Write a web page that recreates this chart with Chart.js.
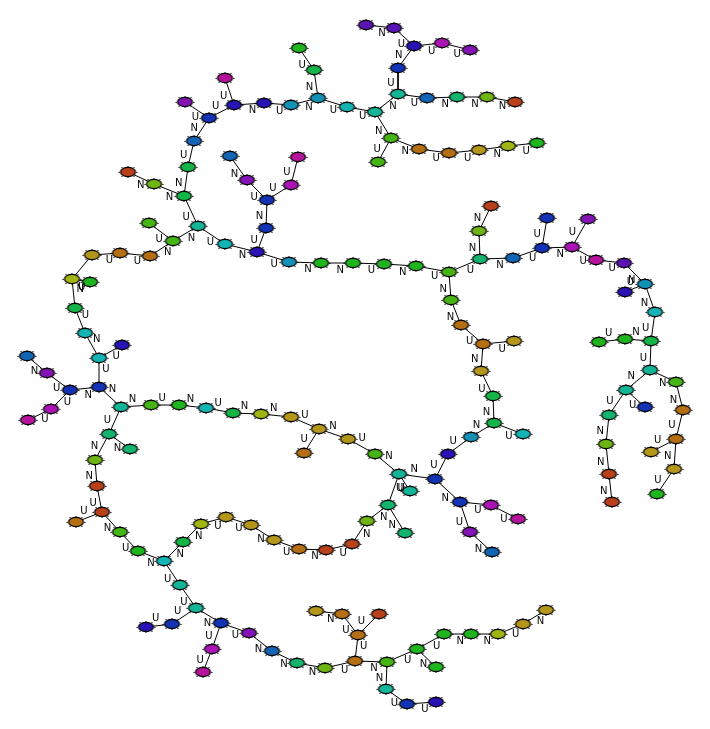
<!DOCTYPE html>
<html>
<head>
<meta charset="utf-8">
<script src="https://cdn.jsdelivr.net/npm/chart.js@4.4.1/dist/chart.umd.min.js"></script>
<style>
  html, body { margin: 0; padding: 0; background: #fff; }
  #graph { display: block; }
</style>
</head>
<body>
<canvas id="graph" width="710" height="729"></canvas>
<script>
// Node names, positions (pixel space of the original drawing) and hue group
const nodeNames = [
  'a1','a2','a3','a4','a5','a6','a7','a8','a9','a10','a11','a12','a13','a14','a15',
  'b1','b2','b3','b4','b5','b6','b7','b8','b9','b10','b11','b13','b14','b15','b16','b17','b18','b19','b20','b21','b23','b24','b25','b26',
  'c1','c2','c3','c4','c5','c6','c7','c8','c9',
  'd1','d2','d3','d4','d5','d6','d7','d8','d9','d10',
  'e2','e3','e4','e5','e6','e7','e8','e9','e10','e11','e12','e13','e14','e15','e16','e17','e18','e19','e20','e21','e22','e23','e24','e25','e26','e27','e28','e29','e30','e31','e32',
  'f2','f3','f4','f5','f6','f7','f8','f9','f10','f11','f12','f13','f14','f15','f16','f17','f18','f19','f20','f21','f22','f23','f24','f25',
  'g2','g3','g4','g5','g6','g7','g8','g9','g10',
  'h1','h2','h3','h4','h5','h6','h7','h8','h9','h10',
  'i1','i2','i3','i4',
  'j1','j2','j3','j4','j5','j6','j7','j8','j9','j10','j11','j12','j13','j14','j15',
  'k1','k2','k3','k4','k5','k6','k7','k8','k9','k10','k11','k12','k13','k14','k15','k16','k17','k18','k19','k20'
];
const nodeX = [
  225,185,234,209,194,188,128,154,184,198,149,173,225,230,247,
  366,394,414,442,470,299,314,398,398,427,457,264,291,318,347,375,391,378,419,449,298,291,267,266,
  487,515,479,508,537,491,479,547,588,
  257,289,321,353,384,416,449,480,451,461,
  513,542,572,596,624,645,625,655,651,625,599,650,676,626,645,609,683,606,676,651,674,609,657,612,483,514,481,493,494,523,471,
  92,120,150,72,90,75,85,99,122,27,47,99,70,51,28,121,151,179,206,233,109,130,95,97,
  261,291,319,304,348,375,399,435,448,
  410,388,367,405,352,460,491,518,470,492,
  251,274,299,326,
  102,76,120,138,164,183,201,226,180,196,172,146,221,212,203,
  249,272,297,325,355,358,316,342,379,387,386,407,436,417,436,444,471,498,523,546
];
const nodeY = [
  78,102,105,118,141,167,172,184,196,226,223,241,244,156,180,
  25,28,46,43,50,48,70,68,94,98,97,103,105,98,107,112,138,162,149,153,157,185,200,228,
  97,102,150,146,143,206,231,218,219,
  252,262,263,263,264,266,272,259,300,325,
  258,248,247,260,263,284,292,312,341,339,342,370,382,390,407,415,410,444,439,452,469,474,494,502,344,341,371,396,423,434,437,
  255,253,256,279,282,308,333,358,345,356,373,387,390,409,420,407,405,405,408,413,434,449,460,486,
  414,417,429,453,439,454,474,479,454,
  491,505,521,533,544,502,505,519,532,552,
  525,540,549,550,
  512,522,532,551,561,542,524,517,585,608,624,627,623,649,672,
  633,651,663,668,661,635,611,614,614,662,689,704,702,649,667,634,634,634,624,610
];
const nodeHue = [
  18,16,14,13,12,7,0,4,7,9,5,5,10,12,16,
  15,15,14,17,16,6,7,13,9,12,8,14,11,11,10,9,5,5,1,1,18,17,13,13,
  4,0,2,3,6,0,4,13,16,
  14,11,6,6,6,6,5,8,5,1,
  12,13,17,18,15,11,14,10,7,6,6,9,5,9,13,8,1,4,1,2,2,0,6,0,1,2,2,7,7,10,11,
  2,1,1,3,6,7,10,10,14,12,16,13,13,17,18,9,5,6,10,7,8,8,4,0,
  3,2,2,1,2,5,9,13,14,
  9,8,4,8,0,13,17,18,16,12,
  2,2,1,0,
  0,1,5,6,10,7,3,2,9,9,13,14,13,17,18,
  16,12,8,4,1,1,2,1,0,5,9,13,14,6,6,6,6,3,2,2
];

// Edges: from, to, edge label
const edges = [
  ['a1','a3','U'],['a2','a4','U'],['a3','a4','U'],['a4','a5','N'],['a5','a6','U'],['a6','a9','N'],
  ['a7','a8','N'],['a8','a9','N'],['a9','a10','U'],['a11','a12','U'],['a12','a10','N'],['a10','a13','U'],
  ['a14','a15','N'],['a15','b25','U'],
  ['b1','b2','N'],['b2','b3','U'],['b3','b4','U'],['b4','b5','U'],['b3','b8','N'],['b8','b9','U'],
  ['b9','b10','U'],['b10','b11','N'],['b11','c1','N'],['c1','c2','N'],['b6','b7','U'],['b7','b15','N'],
  ['a3','b13','N'],['b13','b14','U'],['b14','b15','N'],['b15','b16','U'],['b16','b17','U'],['b17','b9','N'],
  ['b17','b18','N'],['b18','b19','U'],['b18','b20','N'],['b20','b21','U'],['b21','c3','U'],['c3','c4','N'],
  ['c4','c5','U'],['b23','b24','U'],['b24','b25','U'],['b25','b26','N'],['b26','d1','U'],['a13','d1','N'],
  ['d1','d2','U'],['d2','d3','N'],['d3','d4','N'],['d4','d5','U'],['d5','d6','N'],['d6','d7','U'],
  ['d7','d8','U'],['d7','d9','N'],['d9','d10','N'],['d10','e26','U'],['c6','c7','N'],['c7','d8','N'],
  ['d8','e2','N'],['e2','e3','U'],['e3','e4','N'],['c8','e3','U'],['c9','e4','U'],['e4','e5','U'],
  ['e5','e6','U'],['e6','e7','N'],['e7','e8','U'],['e7','e9','N'],['e9','e10','U'],['e10','e11','N'],
  ['e11','e12','U'],['e10','e13','U'],['e13','e14','N'],['e13','e15','N'],['e15','e16','U'],['e15','e17','U'],
  ['e14','e18','N'],['e18','e20','U'],['e20','e21','U'],['e20','e22','N'],['e22','e24','U'],['e17','e19','N'],
  ['e19','e23','N'],['e23','e25','N'],['e26','e27','U'],['e26','e28','N'],['e28','e29','U'],['e29','e30','N'],
  ['e30','e31','U'],['e30','e32','N'],['e32','g10','U'],['g10','g9','U'],['g9','g8','N'],['g8','g7','N'],
  ['g7','g6','U'],['g6','g4','N'],['g4','g5','U'],['g4','g3','U'],['g3','g2','N'],['g2','f21','N'],
  ['f21','f20','U'],['f20','f19','N'],['f19','f18','U'],['f18','f17','N'],['f17','f13','N'],['f13','f9','U'],
  ['f9','f10','U'],['f9','f8','N'],['f8','f7','U'],['f7','f5','N'],['f5','f6','U'],['f5','f2',''],
  ['f2','f3','U'],['f3','f4','U'],['f4','a12','N'],['f14','f13','N'],['f12','f14','U'],['f11','f12','N'],
  ['f15','f14','U'],['f16','f15','U'],['f17','f22','U'],['f22','f23','N'],['f22','f24','N'],['f24','f25','N'],
  ['f25','j1','U'],['j1','j2','U'],['j1','j3','N'],['j3','j4','U'],['j4','j5','N'],['j5','j6','N'],
  ['j6','j7','N'],['j7','j8','U'],['j8','i1','U'],['i1','i2','N'],['i2','i3','U'],['i3','i4','N'],
  ['i4','h5','U'],['h5','h3','N'],['h3','h2','N'],['h2','h4','N'],['h2','g8','U'],['g8','h1','U'],
  ['j5','j9','U'],['j9','j10','U'],['j10','j11','U'],['j11','j12','U'],['j10','j13','N'],['j13','j14','U'],
  ['j14','j15','U'],['j13','k1','U'],['k1','k2','N'],['k2','k3','N'],['k3','k4','N'],['k4','k5','U'],
  ['k5','k6','U'],['k7','k8','N'],['k8','k6','U'],['k9','k6','U'],['k5','k10','N'],['k10','k11','N'],
  ['k11','k12','U'],['k12','k13','U'],['k10','k14','U'],['k14','k15','N'],['k14','k16','U'],['k16','k17','N'],
  ['k17','k18','N'],['k18','k19','U'],['k19','k20','N'],['g9','h6','N'],['h6','h7','U'],['h7','h8','U'],
  ['h6','h9','U'],['h9','h10','N']
];

// Hue palette, red-orange round to pink
const palette = [
  '#b8401a','#b46e14','#b4961a','#a0b414','#6eb414','#46b414','#1eb41e','#14b446','#14b46e','#14b496',
  '#14b4b4','#1490b4','#1464b4','#1432b4','#2814b4','#5a14b4','#8214b4','#aa14b4','#b4149b'
];

// Build an ellipse marker with the little tick marks round its rim
function makeNodeIcon(fill) {
  const c = document.createElement('canvas');
  c.width = 21;
  c.height = 14;
  const g = c.getContext('2d');
  const cx = 10.5, cy = 7, rx = 7.5, ry = 4.6;
  g.beginPath();
  g.ellipse(cx, cy, rx, ry, 0, 0, Math.PI * 2);
  g.fillStyle = fill;
  g.fill();
  g.lineWidth = 1.3;
  g.strokeStyle = '#000';
  g.stroke();
  g.fillStyle = '#000';
  for (let k = 0; k < 8; k++) {
    const t = k * Math.PI / 4;
    const px = cx + (rx + 1.2) * Math.cos(t);
    const py = cy + (ry + 1.2) * Math.sin(t);
    g.fillRect(Math.round(px - 0.5), Math.round(py - 0.5), 1, 1);
  }
  return c;
}

const icons = palette.map(makeNodeIcon);
const index = {};
nodeNames.forEach((n, i) => { index[n] = i; });

const datasets = [];

edges.forEach(e => {
  const a = index[e[0]], b = index[e[1]];
  datasets.push({
    data: [{ x: nodeX[a], y: nodeY[a] }, { x: nodeX[b], y: nodeY[b] }],
    showLine: true,
    borderColor: '#000',
    borderWidth: 1,
    pointRadius: 0,
    pointHoverRadius: 0,
    clip: false,
    order: 2
  });
});

datasets.push({
  data: nodeNames.map((n, i) => ({ x: nodeX[i], y: nodeY[i] })),
  pointStyle: nodeHue.map(h => icons[h]),
  pointRadius: 8,
  clip: false,
  order: 1
});

// Edge labels, set beside each edge a little past its middle
const edgeLabels = {
  id: 'edgeLabels',
  afterDatasetsDraw(chart) {
    const ctx = chart.ctx;
    const sx = chart.scales.x, sy = chart.scales.y;
    ctx.save();
    ctx.font = '10px "DejaVu Sans", sans-serif';
    ctx.fillStyle = '#000';
    ctx.textAlign = 'center';
    ctx.textBaseline = 'middle';
    edges.forEach(e => {
      if (!e[2]) return;
      const a = index[e[0]], b = index[e[1]];
      const x1 = sx.getPixelForValue(nodeX[a]), y1 = sy.getPixelForValue(nodeY[a]);
      const x2 = sx.getPixelForValue(nodeX[b]), y2 = sy.getPixelForValue(nodeY[b]);
      const len = Math.hypot(x2 - x1, y2 - y1) || 1;
      const nx = -(y2 - y1) / len, ny = (x2 - x1) / len;
      const mx = x1 + (x2 - x1) * 0.6, my = y1 + (y2 - y1) * 0.6;
      ctx.fillText(e[2], mx + nx * 7, my + ny * 7);
    });
    ctx.restore();
  }
};

new Chart(document.getElementById('graph'), {
  type: 'scatter',
  data: { datasets: datasets },
  options: {
    responsive: false,
    animation: false,
    devicePixelRatio: 1,
    layout: { padding: 0, autoPadding: false },
    scales: {
      x: { type: 'linear', min: 0, max: 710, display: false },
      y: { type: 'linear', min: 0, max: 729, reverse: true, display: false }
    },
    plugins: {
      legend: { display: false },
      tooltip: { enabled: false }
    }
  },
  plugins: [edgeLabels]
});
</script>
</body>
</html>
